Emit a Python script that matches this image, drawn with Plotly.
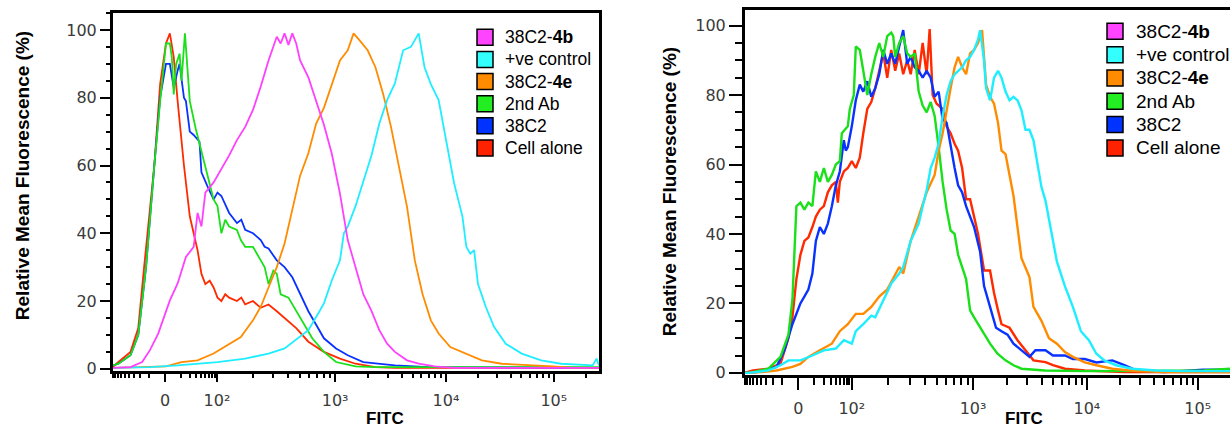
import numpy as np
import plotly.graph_objects as go

W, H = 1230, 428

# legend order, top to bottom
names = ['38C2-<b>4b</b>', '+ve control', '38C2-<b>4e</b>', '2nd Ab', '38C2', 'Cell alone']
line_colors = ['#FF40FF', '#1EEEFF', '#FF8C00', '#19E019', '#0A32FF', '#FF2A00']
swatch_colors = ['#FF44FF', '#33FFFF', '#FF8C00', '#22EE22', '#0033FF', '#FF2200']

# x axis is in display channels (logicle-like), ticks at 0, 10^2 .. 10^5
tick_ch = [107, 214, 457, 685, 907]
tick_text = ['0', '10²', '10³', '10⁴', '10⁵']

# ---- left panel: (channel, % of max)
L_cell = [(0,0.5),(7,1.5),(36,5),(52,12),(64,30),(76,48),(85,60),(97,84),(109,96),(117,99),(125,92),
          (133,79),(146,60),(158,45),(166,40),(174,35),(182,28),(190,25),(199,26),(207,24),(215,21),
          (223,20),(231,22),(239,21),(255,20),(264,21),(272,19),(288,20),(304,18),(320,19),(337,17),
          (353,15),(377,12),(402,8),(434,5),(467,3),(499,1.5),(540,0.5),(580,0.3),(1000,0.3)]
L_38c2 = [(0,1),(11,1.5),(36,4),(52,10),(68,30),(76,45),(85,60),(97,80),(109,90),(117,90),(125,83),
          (133,88),(137,90),(146,80),(150,79),(158,70),(166,69),(178,67),(182,58),(194,54),(207,50),
          (215,52),(223,51),(239,46),(255,43),(264,44),(272,41),(288,40),(304,38),(312,36),(320,35.5),
          (337,32),(353,30),(369,27),(385,22),(402,17),(418,13),(434,9),(459,6),(483,4),(515,2),
          (580,1),(650,0.5),(1000,0.3)]
L_2nd = [(0,1),(11,1.5),(36,4),(52,10),(68,30),(76,45),(85,60),(97,79),(109,96),(117,96),(121,92),
         (125,81),(130,90),(137,93),(141,85),(148,99),(158,79),(170,71),(182,64),(190,59),(207,50),
         (215,48),(223,40),(231,44),(239,42),(255,41),(263,38),(272,36),(288,36),(304,32),(312,30),
         (320,25),(330,29),(337,28),(345,22),(361,21),(385,15),(410,9),(434,5),(459,2),(499,0.7),
         (540,0.5),(1000,0.5)]
L_4e = [(0,0.3),(109,0.7),(141,2),(174,2.5),(207,4.5),(239,7.4),(263,9.4),(288,14.3),(304,18.3),
        (320,24),(337,30),(353,37),(369,47),(385,57),(402,63.6),(418,72.4),(434,77),(450,84),(467,91),
        (483,94),(495,99),(507,97),(524,94),(540,89),(556,81),(572,71.4),(589,59.6),(605,47.8),(621,32),
        (637,22),(654,14.3),(670,10.4),(694,6.4),(727,4.5),(759,2.5),(800,1.5),(849,1.2),(906,0.7),
        (946,0.3),(1000,0.3)]
L_pos = [(0,0.3),(76,0.5),(133,1),(215,2),(272,3),(320,4.5),(353,6),(385,9.4),(402,11.4),(418,15.3),
         (434,19.3),(450,26),(467,32),(475,40),(483,42),(499,48),(515,55),(532,63),(548,72.4),(564,79.3),
         (580,84.2),(597,94),(613,95),(629,99),(641,89),(654,84),(670,79.3),(686,67.5),(702,54.7),
         (719,45),(727,36),(735,34),(743,35),(751,25),(767,18.3),(784,12.4),(808,7.4),(841,4.5),
         (881,2.5),(922,1.5),(971,1),(987,1),(995,3),(1000,1)]
L_4b = [(0,0.3),(36,0.5),(60,2),(76,5.5),(93,10.4),(109,17.3),(117,20.2),(133,25.2),(150,33),(166,36),
        (174,46),(182,42),(190,52),(207,55),(223,59),(239,63),(255,67.5),(272,71.4),(288,76.4),
        (304,83.3),(320,91),(337,98),(345,96),(353,99),(361,95.6),(369,99),(377,96),(385,91),(402,86),
        (418,79),(434,72),(450,63.6),(467,51.7),(483,38),(499,30),(515,22),(532,17),(548,11.4),
        (564,7.4),(580,5),(605,2.5),(629,1.5),(662,0.7),(702,0.3),(1000,0.3)]

# ---- right panel
R_cell = [(0,0),(16,0.7),(47,1.2),(71,2.6),(87,10),(95,16),(103,27),(111,34),(119,38),(127,39),(135,42),
          (142,45),(150,47),(158,48),(166,52),(174,54),(182,55),(186,49),(190,55),(198,58),(206,59),
          (214,61),(222,59),(230,62),(237,69),(245,76),(253,78),(261,82),(269,87),(277,92),(285,85),
          (293,93),(301,87),(309,92),(317,86),(325,90),(332,86),(340,93),(348,86),(356,95),(364,86),
          (370,99),(376,80),(384,77.5),(396,76),(404,71),(412,69),(420,66),(427,64),(435,59),(443,50),
          (451,50),(459,45),(467,40),(475,33),(479,29.5),(491,29.5),(499,23),(507,18),(514,14),(530,13),
          (546,9.4),(562,6.5),(578,3.6),(602,3.1),(617,2.2),(641,1.2),(681,0.7),(760,0.2),(972,0.2)]
R_38c2 = [(0,0),(24,0.2),(63,1.7),(79,6.5),(95,14),(111,20),(127,24),(135,28.6),(142,38),(150,42),
          (158,40),(166,43),(174,48),(182,54),(190,58),(198,67),(202,64),(206,65),(214,71),(222,78.5),
          (230,83),(237,81),(245,84),(253,79.5),(261,82),(269,86),(277,93),(285,89),(293,92),(301,89),
          (309,94),(317,98.7),(325,89),(332,91),(340,88),(348,87),(356,85),(364,87),(372,85),(380,79.5),
          (388,81),(396,73),(404,72),(412,65),(420,59),(427,54),(435,52),(443,48),(459,42),(471,35),
          (479,25),(491,19),(503,13),(514,12),(526,11),(538,8.4),(554,6.5),(570,4.6),(582,6.5),(602,6.5),
          (617,5),(641,5),(657,4),(681,4),(704,3),(736,3.6),(760,2.2),(784,0.7),(839,0.2),(918,0.9),
          (972,0.9)]
R_2nd = [(0,0),(8,0),(47,1.2),(71,4.6),(87,11),(95,21),(103,48),(111,49),(119,47),(127,49),(135,48),
         (142,58),(150,55),(158,59),(166,55),(174,57),(182,60),(190,61),(194,69),(206,71),(210,76),
         (218,80),(222,94),(230,93),(237,87),(245,80),(253,86),(261,91),(269,95),(277,91),(285,97),
         (293,98),(297,97),(301,91),(309,95),(317,97),(325,92),(332,91),(340,92),(348,81),(356,77),
         (364,75),(372,78),(380,74),(388,65),(396,55),(404,47),(412,41),(420,40),(427,34),(443,27),
         (451,18),(459,16),(475,12),(491,8.4),(506,5.5),(522,3.6),(538,2.2),(554,1.2),(601,0.7),
         (681,0.5),(918,0.7),(972,1.2)]
R_4e = [(0,0),(32,0.2),(63,0.7),(95,1.7),(111,2.6),(127,4.6),(150,6.5),(174,8.4),(190,12),(206,14),
        (222,17),(237,17),(253,19),(269,22),(285,24),(301,28.6),(309,30.5),(317,28.6),(332,38),(348,45),
        (364,52),(380,57),(388,64),(396,69),(404,76),(412,82),(420,88),(427,91),(435,88),(443,86),
        (451,92),(459,93),(467,95),(475,98.7),(483,83),(491,79.5),(499,77.5),(507,72),(514,64),(522,63),
        (530,57),(538,51),(546,42),(554,33),(570,27.6),(578,19),(594,15),(609,10),(625,8.4),(641,6),
        (657,4.6),(681,3),(704,2.2),(736,1.2),(784,0.5),(839,0.2),(972,0.2)]
R_pos = [(0,0),(8,0),(47,0.7),(71,2.2),(87,3.6),(111,3.6),(135,5),(158,6.5),(182,7),(198,9.4),(214,8.4),
         (222,12),(237,14),(253,16.5),(261,16),(277,21),(293,25.7),(309,28.6),(317,30.5),(332,38),
         (348,43),(356,48),(364,52.6),(372,59),(380,62),(388,66),(396,74),(404,80),(412,84),(420,86),
         (427,87),(435,88),(443,90),(451,91),(459,93),(467,96),(471,98.7),(479,90),(483,82),(491,78.5),
         (499,85),(507,87),(514,85),(522,81),(530,78.5),(538,79.5),(546,78.5),(554,75.6),(562,70),
         (570,70),(578,67),(586,60),(594,53.5),(602,49.7),(609,44),(617,38),(625,32),(641,25),(657,19),
         (673,12),(689,9.4),(704,5.5),(720,3.6),(744,2.2),(776,1.2),(823,0.7),(879,0.5),(972,0.5)]

left_series = {'38C2-<b>4b</b>': L_4b, '+ve control': L_pos, '38C2-<b>4e</b>': L_4e,
               '2nd Ab': L_2nd, '38C2': L_38c2, 'Cell alone': L_cell}
right_series = {'+ve control': R_pos, '38C2-<b>4e</b>': R_4e,
                '2nd Ab': R_2nd, '38C2': R_38c2, 'Cell alone': R_cell}

VS = 1.02  # small vertical stretch, the photographed page came out a bit squashed


def px(x):
    return x / W


def py(y):
    return 1 - y * VS / H


def minor_ticks():
    out = [0]
    for k in range(2, 10):
        out.append(tick_ch[0] - np.log10(k) * tick_ch[0])
    for a, b in zip(tick_ch[:-1], tick_ch[1:]):
        for k in range(2, 10):
            out.append(a + np.log10(k) * (b - a))
    last = tick_ch[-1] - tick_ch[-2]
    for k in range(2, 5):
        out.append(tick_ch[-1] + np.log10(k) * last)
    return out


fig = go.Figure()
for series, xa, ya, lw in [(left_series, 'x', 'y', 1.8), (right_series, 'x2', 'y2', 2.4)]:
    for name in reversed(names):
        if name not in series:
            continue
        pts = series[name]
        fig.add_scatter(x=[p[0] for p in pts], y=[p[1] for p in pts], mode='lines',
                        line=dict(color=line_colors[names.index(name)], width=lw),
                        xaxis=xa, yaxis=ya, showlegend=False, hoverinfo='skip')

tickfont = dict(family='DejaVu Sans', size=16, color='#3a3a3a')
minors = minor_ticks()


def xaxis(domain, rng, anchor, tlen, mlen):
    return dict(domain=domain, range=rng, anchor=anchor, showline=True, linecolor='black', linewidth=3,
                mirror=True, ticks='outside', tickvals=tick_ch, ticktext=tick_text, ticklen=tlen,
                tickwidth=2, tickcolor='black', tickfont=tickfont, ticklabelstandoff=5,
                minor=dict(tickmode='array', tickvals=minors, ticks='outside', ticklen=mlen,
                           tickwidth=2, tickcolor='black'),
                showgrid=False, zeroline=False, fixedrange=True)


def yaxis(domain, rng, anchor, mirror, tlen, mlen):
    return dict(domain=domain, range=rng, anchor=anchor, showline=True, linecolor='black', linewidth=3,
                mirror=mirror, ticks='outside', tickvals=[0, 20, 40, 60, 80, 100], ticklen=tlen,
                tickwidth=2, tickcolor='black', tickfont=tickfont,
                minor=dict(dtick=5, tick0=0, ticks='outside', ticklen=mlen, tickwidth=2, tickcolor='black'),
                showgrid=False, zeroline=False, fixedrange=True)


fig.update_layout(
    width=W, height=H, margin=dict(l=0, r=0, t=0, b=0),
    paper_bgcolor='white', plot_bgcolor='white',
    font=dict(family='Liberation Sans, Arial, sans-serif', color='black', size=15),
    xaxis=xaxis([px(113), px(599)], [0, 1000], 'y', 8, 4),
    yaxis=yaxis([py(370.5), py(13)], [-0.6, 105], 'x', True, 10, 4),
    xaxis2=xaxis([px(745), 1], [0, 971.8], 'y2', 12, 7),
    yaxis2=yaxis([py(374.6), py(10)], [-0.6, 104.5], 'x2', False, 13, 7),
)

annotations = []
shapes = []
# axis titles
for xc, yc in [(22, 176), (669, 192)]:
    annotations.append(dict(text='Relative Mean Fluorescence (%)', x=px(xc), y=py(yc),
                            xref='paper', yref='paper', textangle=-90, showarrow=False,
                            xanchor='center', yanchor='middle',
                            font=dict(size=19, weight='bold')))
for xa in ['x', 'x2']:
    annotations.append(dict(text='FITC', x=560, y=py(418), xref=xa, yref='paper',
                            showarrow=False, xanchor='center', yanchor='middle',
                            font=dict(size=17, weight='bold')))

# hand-made legends with square swatches
for sx, top, dy, tx, fs in [(477, 29.3, 22.1, 503, 17.5), (1107, 23.3, 23.3, 1134, 19)]:
    for i, name in enumerate(names):
        y0 = top + i * dy
        shapes.append(dict(type='rect', xref='paper', yref='paper', x0=px(sx), x1=px(sx + 16),
                           y0=py(y0 + 16), y1=py(y0), fillcolor=swatch_colors[i],
                           line=dict(color='black', width=1.5)))
        annotations.append(dict(text=name, x=px(tx), y=py(y0 + 8), xref='paper', yref='paper',
                                xanchor='left', yanchor='middle', showarrow=False,
                                font=dict(size=fs, color='black')))

fig.update_layout(annotations=annotations, shapes=shapes)
# the page's default body margin would shift the whole figure by 8px
fig.write_html("out.html", config={'displayModeBar': False},
               post_script="document.body.style.margin='0';document.body.style.overflow='hidden';")
